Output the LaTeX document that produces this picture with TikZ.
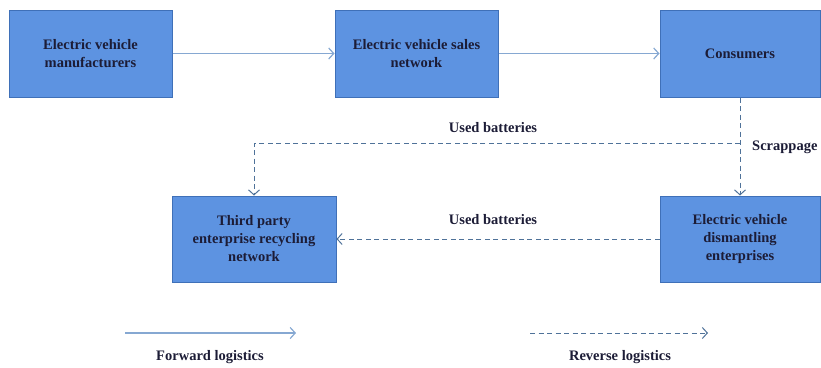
\documentclass[tikz,border=0pt]{standalone}
\usepackage{fontspec}
\setmainfont{Liberation Serif}
\usetikzlibrary{arrows.meta}
\definecolor{boxfill}{HTML}{5D93E1}
\definecolor{boxline}{HTML}{3F70B8}
\definecolor{fwd}{HTML}{86A8D2}
\definecolor{rev}{HTML}{4F7299}
\definecolor{txt}{HTML}{1C1C36}
\tikzset{
  box/.style={draw=boxline, line width=1pt, fill=boxfill, minimum width=163pt, minimum height=87pt, align=center, inner sep=2pt, text=txt, font=\fontsize{14.5}{18}\selectfont\bfseries},
  lbl/.style={text=txt, font=\fontsize{14.5}{18}\selectfont\bfseries, inner sep=1pt},
  fwdarrow/.style={draw=fwd, line width=1.2pt, -{Straight Barb[length=5pt,width=11pt]}},
  revarrow/.style={draw=rev, line width=1pt, dash pattern=on 5pt off 3.5pt, -{Straight Barb[length=5pt,width=11pt]}}
}
\begin{document}
\begin{tikzpicture}[x=1pt,y=-1pt]
\useasboundingbox (0,0) rectangle (821,367);
\node[box] (man) at (90.5,53.5) {Electric vehicle\\manufacturers};
\node[box] (sales) at (416.5,53.5) {Electric vehicle sales\\network};
\node[box, minimum width=160pt] (cons) at (740,53.5) {Consumers};
\node[box, minimum height=86pt, minimum width=164pt] (third) at (254,239) {Third party\\enterprise recycling\\network};
\node[box, minimum height=86pt, minimum width=160pt] (dism) at (740,239) {Electric vehicle\\dismantling\\enterprises};
\draw[fwdarrow] (man) -- (sales);
\draw[fwdarrow] (sales) -- (cons);
\draw[revarrow] (cons) -- (dism);
\coordinate (br) at (740,143);
\draw[revarrow] (br) -| (third.north);
\draw[revarrow] (dism) -- (third);
\node[lbl] (ub1) at (493,128) {Used batteries};
\node[lbl, anchor=west] (scr) at (751,147) {Scrappage};
\node[lbl] (ub2) at (493,220) {Used batteries};
\coordinate (f1) at (125,333);
\coordinate (f2) at (296,333);
\draw[fwdarrow] (f1) -- (f2);
\node[lbl] (fl) at (210,357) {Forward logistics};
\coordinate (r1) at (530,333);
\coordinate (r2) at (708,333);
\draw[revarrow] (r1) -- (r2);
\node[lbl] (rl) at (620,357) {Reverse logistics};
\end{tikzpicture}
\end{document}
